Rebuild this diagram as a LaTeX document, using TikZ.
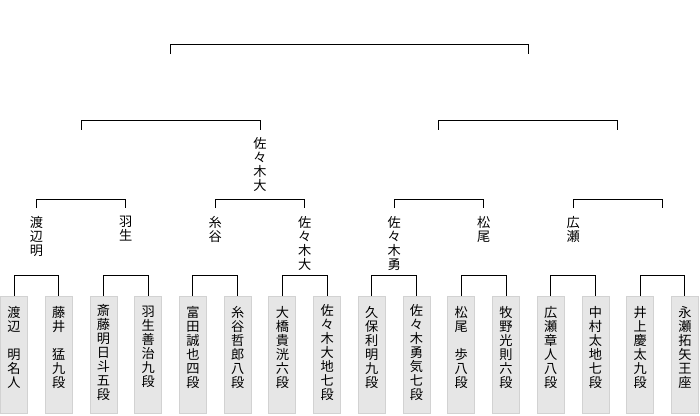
\documentclass[tikz,border=0pt]{standalone}
\usepackage{fontspec}
\newfontfamily\cjk{Noto Sans CJK JP}
\definecolor{boxfill}{HTML}{E6E6E6}
\definecolor{boxline}{HTML}{D2D2D2}
\begin{document}
\begin{tikzpicture}[x=1pt,y=-1pt,
  player/.style={draw=boxline, fill=boxfill, line width=0.8pt, minimum width=27pt, minimum height=117pt, inner sep=0pt, anchor=north},
  vtext/.style={font=\cjk\fontsize{13.2}{14}\selectfont, align=center, inner sep=0pt, anchor=north},
  bracket/.style={draw=black, line width=1pt}]
\useasboundingbox (0,0) rectangle (700,415);
% player boxes
\foreach \i in {1,...,16}
  \node[player] (b\i) at ({14+44.73*(\i-1)},296) {};
% player names
\node[vtext] (t1)  at ([yshift=-10pt]b1.north)  {渡\\辺\\　\\明\\名\\人};
\node[vtext] (t2)  at ([yshift=-10pt]b2.north)  {藤\\井\\　\\猛\\九\\段};
\node[vtext] (t3)  at ([yshift=-8.5pt]b3.north)  {斎\\藤\\明\\日\\斗\\五\\段};
\node[vtext] (t4)  at ([yshift=-10pt]b4.north)  {羽\\生\\善\\治\\九\\段};
\node[vtext] (t5)  at ([yshift=-10pt]b5.north)  {富\\田\\誠\\也\\四\\段};
\node[vtext] (t6)  at ([yshift=-10pt]b6.north)  {糸\\谷\\哲\\郎\\八\\段};
\node[vtext] (t7)  at ([yshift=-10pt]b7.north)  {大\\橋\\貴\\洸\\六\\段};
\node[vtext] (t8)  at ([yshift=-8.5pt]b8.north)  {佐\\々\\木\\大\\地\\七\\段};
\node[vtext] (t9)  at ([yshift=-10pt]b9.north)  {久\\保\\利\\明\\九\\段};
\node[vtext] (t10) at ([yshift=-8.5pt]b10.north) {佐\\々\\木\\勇\\気\\七\\段};
\node[vtext] (t11) at ([yshift=-10pt]b11.north) {松\\尾\\　\\歩\\八\\段};
\node[vtext] (t12) at ([yshift=-10pt]b12.north) {牧\\野\\光\\則\\六\\段};
\node[vtext] (t13) at ([yshift=-10pt]b13.north) {広\\瀬\\章\\人\\八\\段};
\node[vtext] (t14) at ([yshift=-10pt]b14.north) {中\\村\\太\\地\\七\\段};
\node[vtext] (t15) at ([yshift=-10pt]b15.north) {井\\上\\慶\\太\\九\\段};
\node[vtext] (t16) at ([yshift=-10pt]b16.north) {永\\瀬\\拓\\矢\\王\\座};
% first round brackets
\foreach \a/\b in {1/2,3/4,5/6,7/8,9/10,11/12,13/14,15/16}
  \draw[bracket] (b\a.north) -- ++(0,-21) -| (b\b.north);
% second round: winners and bracket ends
\node[vtext] (w1) at (36.4,216)  {渡\\辺\\明};
\node[vtext] (w2) at (125.8,216) {羽\\生};
\node[vtext] (w3) at (215.3,216) {糸\\谷};
\node[vtext] (w4) at (304.7,216) {佐\\々\\木\\大};
\node[vtext] (w5) at (394.2,216) {佐\\々\\木\\勇};
\node[vtext] (w6) at (483.7,216) {松\\尾};
\node[vtext] (w7) at (573.1,216) {広\\瀬};
\coordinate (e1) at (36.4,208);
\coordinate (e2) at (125.8,208);
\coordinate (e3) at (215.3,208);
\coordinate (e4) at (304.7,208);
\coordinate (e5) at (394.2,208);
\coordinate (e6) at (483.7,208);
\coordinate (e7) at (573.1,208);
\coordinate (e8) at (662.6,208);
\foreach \a/\b in {1/2,3/4,5/6,7/8}
  \draw[bracket] (e\a) -- ++(0,-9) -| (e\b);
% third round
\node[vtext] (v2) at (260.0,137) {佐\\々\\木\\大};
\coordinate (f1) at (81.1,129.5);
\coordinate (f2) at (260.0,129.5);
\coordinate (f3) at (438.9,129.5);
\coordinate (f4) at (617.9,129.5);
\draw[bracket] (f1) -- ++(0,-9.5) -| (f2);
\draw[bracket] (f3) -- ++(0,-9.5) -| (f4);
% final
\coordinate (g1) at (170.6,54);
\coordinate (g2) at (528.4,54);
\draw[bracket] (g1) -- ++(0,-10) -| (g2);
\end{tikzpicture}
\end{document}
